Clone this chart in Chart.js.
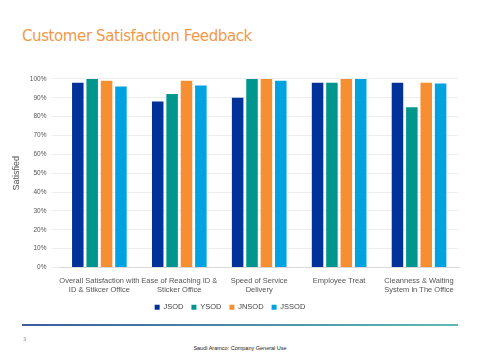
<!DOCTYPE html>
<html>
<head>
<meta charset="utf-8">
<script src="https://cdn.jsdelivr.net/npm/chart.js@4"></script>
<style>
  body { margin: 0; width: 480px; height: 360px; background: #fff; position: relative; overflow: hidden; font-family: "DejaVu Sans", sans-serif; }
  #title { position: absolute; left: 22px; top: 27px; font-size: 15px; color: #F0994A; font-family: "DejaVu Sans", sans-serif; letter-spacing: -0.4px; }
  #wrap { position: absolute; left: 1px; top: 70px; width: 464px; height: 251px; }
  #bar { position: absolute; left: 22px; top: 324px; width: 436px; height: 2px; background: linear-gradient(to right, #3B5B9C, #5CBBB3); }
  #page { position: absolute; left: 23px; top: 336px; font-size: 5px; color: #888; }
  #foot { position: absolute; left: 0; width: 480px; top: 345px; text-align: center; font-size: 5.5px; color: #222; font-family: "Liberation Sans", sans-serif; }
</style>
</head>
<body>
<div id="title">Customer Satisfaction Feedback</div>
<div id="wrap"><canvas id="chart"></canvas></div>
<div id="bar"></div>
<div id="page">3</div>
<div id="foot">Saudi Aramco: Company General Use</div>
<script>
const categories = [
  ['Overall Satisfaction with', 'ID & Stikcer Office'],
  ['Ease of Reaching ID &', 'Sticker Office'],
  ['Speed of Service', 'Delivery'],
  ['Employee Treat'],
  ['Cleanness & Waiting', 'System in The Office']
];
const jsod  = [98, 88, 90, 98, 98];
const ysod  = [100, 92, 100, 98, 85];
const jnsod = [99, 99, 100, 100, 98];
const jssod = [96, 96.5, 99, 100, 97.5];

const ctx = document.getElementById('chart').getContext('2d');
new Chart(ctx, {
  type: 'bar',
  data: {
    labels: categories,
    datasets: [
      { label: 'JSOD', data: jsod, backgroundColor: '#00329A' },
      { label: 'YSOD', data: ysod, backgroundColor: '#00968E' },
      { label: 'JNSOD', data: jnsod, backgroundColor: '#F58F32' },
      { label: 'JSSOD', data: jssod, backgroundColor: '#00A2DF' }
    ]
  },
  options: {
    responsive: true,
    maintainAspectRatio: false,
    animation: false,
    datasets: { bar: { categoryPercentage: 0.72, barPercentage: 0.8 } },
    layout: { padding: { right: 6, top: 2 } },
    plugins: {
      legend: {
        position: 'bottom',
        labels: { boxWidth: 5, boxHeight: 5, font: { size: 7.5 }, color: '#444', padding: 8 }
      },
      tooltip: { enabled: false }
    },
    scales: {
      x: {
        grid: { display: false },
        border: { color: '#d9d9d9' },
        ticks: { font: { size: 7.5 }, color: '#555', maxRotation: 0, autoSkip: false, padding: 1 }
      },
      y: {
        min: 0, max: 100,
        border: { display: false },
        grid: { color: '#eeeeee' },
        ticks: { stepSize: 10, font: { size: 6.5 }, color: '#555', padding: 5, callback: v => v + '%' },
        title: { display: true, text: 'Satisfied', font: { size: 9 }, color: '#555', padding: { top: 10, bottom: 3 } }
      }
    }
  }
});
</script>
</body>
</html>
